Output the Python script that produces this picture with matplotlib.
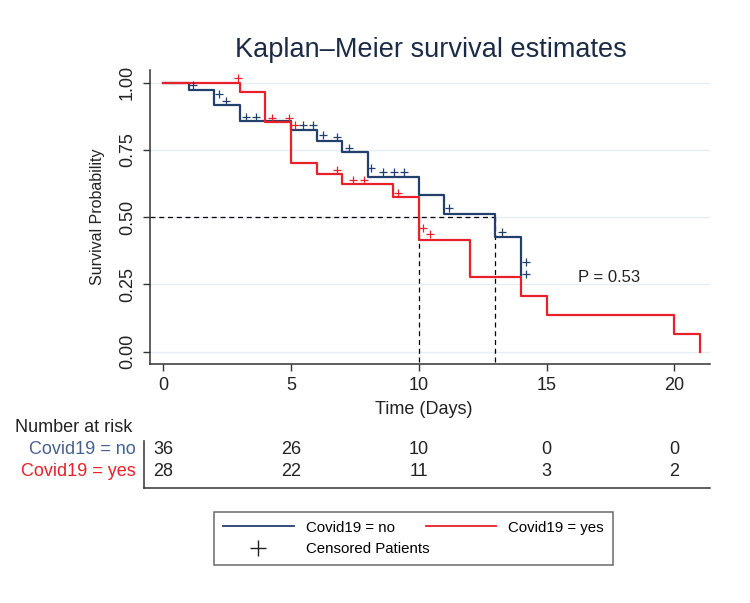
import matplotlib
matplotlib.use("Agg")
import matplotlib.pyplot as plt
import matplotlib.transforms as mtransforms
from matplotlib.lines import Line2D

plt.rcParams['font.family'] = ['Liberation Sans', 'DejaVu Sans']

# Kaplan-Meier steps
no_times = [0, 1, 2, 3, 5, 6, 7, 8, 10, 11, 13, 14]
no_surv = [1.0, 0.972, 0.917, 0.856, 0.824, 0.784, 0.741, 0.651, 0.583, 0.513, 0.428, 0.285]
yes_times = [0, 3, 4, 5, 6, 7, 9, 10, 12, 14, 15, 20, 21]
yes_surv = [1.0, 0.964, 0.853, 0.700, 0.661, 0.622, 0.574, 0.415, 0.279, 0.207, 0.136, 0.065, 0.0]

# censored patients
no_cens_t = [1.17, 2.18, 2.45, 3.24, 3.62, 5.48, 5.87, 6.26, 6.79, 7.27, 8.12, 8.61, 9.03, 9.43,
             11.19, 13.24, 14.2, 14.2]
no_cens_s = [0.991, 0.957, 0.933, 0.874, 0.874, 0.843, 0.843, 0.806, 0.800, 0.758, 0.682, 0.669,
             0.669, 0.669, 0.533, 0.444, 0.333, 0.290]
yes_cens_t = [2.94, 4.27, 4.93, 5.15, 6.79, 7.41, 7.87, 9.2, 10.15, 10.44]
yes_cens_s = [1.017, 0.869, 0.869, 0.843, 0.675, 0.639, 0.639, 0.591, 0.459, 0.438]

medians = [10, 13]
risk_days = [0, 5, 10, 15, 20]
risk_no = [36, 26, 10, 0, 0]
risk_yes = [28, 22, 11, 3, 2]
p_text = "P = 0.53"

blue = "#233f6c"
red = "#e8202a"
dark = "#333333"

fig = plt.figure(figsize=(7.5, 6.03), dpi=100)
ax = fig.add_axes([0.2, 0.3958, 0.7467, 0.488])

ax.set_xlim(-0.52, 21.4)
ax.set_ylim(-0.047, 1.047)
for yv in [0, 0.25, 0.5, 0.75, 1.0]:
    ax.axhline(yv, color="#e6eef5", lw=1.0, zorder=0)

# median lines
ax.plot([-0.52, medians[1]], [0.5, 0.5], color="black", ls=(0, (4, 3)), lw=0.9, zorder=1)
for m in medians:
    ax.plot([m, m], [0.5, -0.047], color="black", ls=(0, (4, 3)), lw=0.9, zorder=1)

ax.step(no_times, no_surv, where='post', color=blue, lw=1.6, zorder=2)
ax.step(yes_times, yes_surv, where='post', color=red, lw=1.6, zorder=3)
ax.plot(no_cens_t, no_cens_s, ls='none', marker='+', ms=6, mew=0.9, color=blue, zorder=4)
ax.plot(yes_cens_t, yes_cens_s, ls='none', marker='+', ms=6, mew=0.9, color=red, zorder=4)

ax.text(16.23, 0.274, p_text, fontsize=12, va='center', ha='left', color="#222222")

for s in ['top', 'right']:
    ax.spines[s].set_visible(False)
for s in ['left', 'bottom']:
    ax.spines[s].set_color(dark)
    ax.spines[s].set_linewidth(1.1)

ax.set_xticks(risk_days)
ax.set_yticks([0, 0.25, 0.5, 0.75, 1.0])
ax.set_yticklabels(["0.00", "0.25", "0.50", "0.75", "1.00"], rotation=90, va='center')
ax.tick_params(axis='both', direction='out', length=5, width=1.0, color=dark,
               labelsize=13, labelcolor="#222222")
ax.tick_params(axis='y', pad=5)
ax.tick_params(axis='x', pad=4)

ax.set_xlabel("Time (Days)", fontsize=13, color="#222222", va='center')
ax.xaxis.set_label_coords(0.488, -0.155)
ax.set_ylabel("Survival Probability", fontsize=11.5, color="#222222", va='center')
ax.yaxis.set_label_coords(-0.0946, 0.5)

ax.text(0.502, 1.068, "Kaplan\u2013Meier survival estimates", transform=ax.transAxes,
        fontsize=19.5, ha='center', va='center', color="#1c2b45")

# number at risk table
H = 603.0
def fy(py):
    return 1 - py / H

fig.text(15 / 750, fy(428), "Number at risk", fontsize=13, va='center', ha='left', color="#222222")
fig.text(136 / 750, fy(450), "Covid19 = no", fontsize=13, va='center', ha='right', color="#46618f")
fig.text(136 / 750, fy(472), "Covid19 = yes", fontsize=13, va='center', ha='right', color=red)
trans = mtransforms.blended_transform_factory(ax.transData, fig.transFigure)
for d, a, b in zip(risk_days, risk_no, risk_yes):
    ax.text(d, fy(450), str(a), transform=trans, fontsize=13, ha='center', va='center', color="#222222")
    ax.text(d, fy(472), str(b), transform=trans, fontsize=13, ha='center', va='center', color="#222222")
fig.add_artist(Line2D([144 / 750, 144 / 750], [fy(441), fy(488)], color=dark, lw=1.1))
fig.add_artist(Line2D([144 / 750, 710 / 750], [fy(488), fy(488)], color=dark, lw=1.1))

# legend
handles = [Line2D([], [], color=blue, lw=1.3),
           Line2D([], [], ls='none', marker='+', ms=11, mew=1.0, color="#222222"),
           Line2D([], [], color=red, lw=1.3)]
labels = ["Covid19 = no", "Censored Patients", "Covid19 = yes"]
leg = fig.legend(handles, labels, ncol=2, loc='center', bbox_to_anchor=(0.5513, 0.107),
                 fontsize=10.8, frameon=True, fancybox=False, edgecolor="#444444",
                 handlelength=4.7, handletextpad=0.8, columnspacing=-0.25,
                 borderpad=0.6, labelspacing=0.5)
leg.get_frame().set_linewidth(1.1)

fig.savefig("out.png", dpi=100)
